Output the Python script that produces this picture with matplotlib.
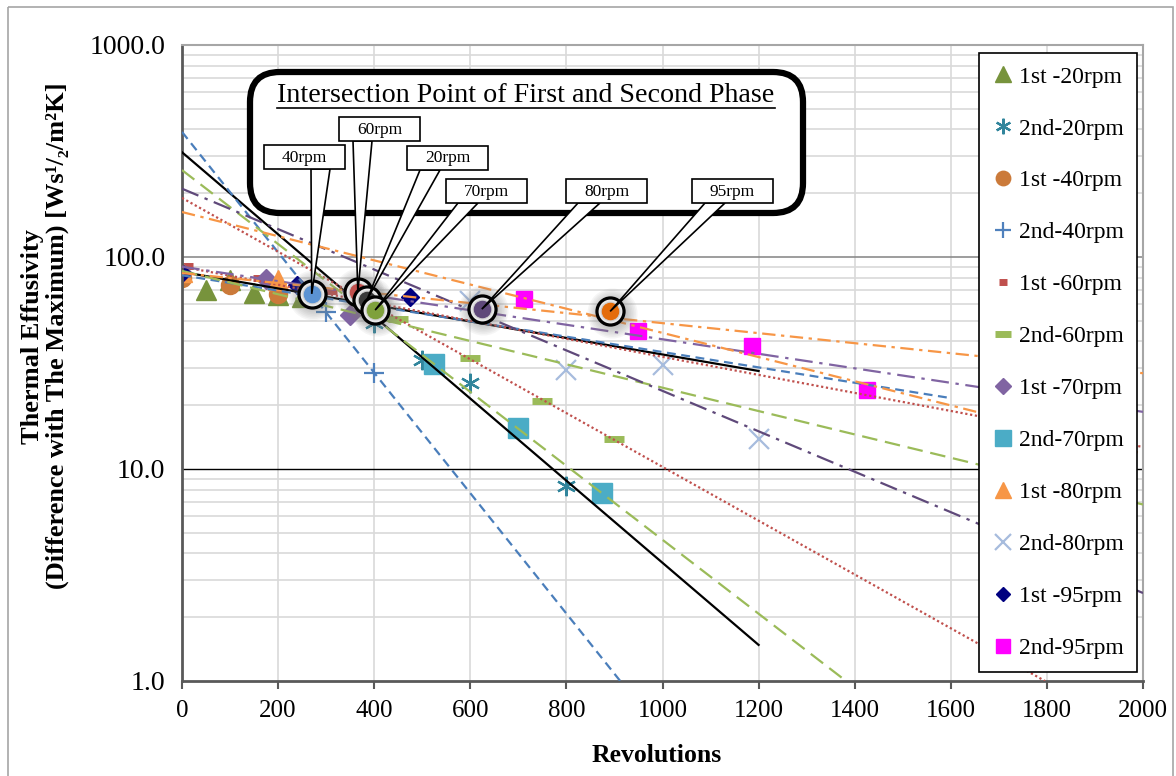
import numpy as np
import matplotlib.pyplot as plt
from matplotlib.patches import FancyBboxPatch, Rectangle, Polygon

plt.rcParams['font.family'] = ['Liberation Serif', 'DejaVu Serif']

# measured points, first and second phase, per rotation speed
x_1st_20 = [50, 100, 150, 200, 250]
y_1st_20 = [70, 78, 68, 66, 65]
x_2nd_20 = [400, 500, 600, 800]
y_2nd_20 = [49, 32.5, 25.5, 8.3]
x_1st_40 = [0, 100, 200]
y_1st_40 = [80, 74, 67]
x_2nd_40 = [300, 400]
y_2nd_40 = [55, 28.3]
x_1st_60 = [10, 160, 310]
y_1st_60 = [91, 80, 69]
x_2nd_60 = [450, 600, 750, 900]
y_2nd_60 = [51, 33.4, 21, 13.8]
x_1st_70 = [0, 175, 350]
y_1st_70 = [84, 79, 53]
x_2nd_70 = [525, 700, 875]
y_2nd_70 = [31.2, 15.6, 7.7]
x_1st_80 = [0, 200]
y_1st_80 = [85, 78]
x_2nd_80 = [600, 800, 1000, 1200]
y_2nd_80 = [62, 29.3, 30.9, 13.8]
x_1st_95 = [0, 240, 475]
y_1st_95 = [84, 74, 65]
x_2nd_95 = [712, 949, 1186, 1425]
y_2nd_95 = [63.6, 45, 38, 23.6]

# exponential trend lines: value at 0 and at the end of the line
rpm = ['20rpm', '40rpm', '60rpm', '70rpm', '80rpm', '95rpm']
trend1_start = [85, 82, 90, 86, 90, 84]
trend1_end_x = [1200, 1600, 2000, 2000, 2000, 2000]
trend1_end_y = [29.0, 21.6, 12.7, 6.8, 18.6, 28.3]
trend2_start = [312, 389, 190, 257, 210, 163]
trend2_end_x = [1200, 912, 1796, 1382, 2000, 2000]
trend2_end_y = [1.48, 1.0, 1.0, 1.0, 2.6, 11.8]

# intersection of the two phases
cross_label = ['60rpm', '40rpm', '20rpm', '70rpm', '80rpm', '95rpm']
cross_x = [366, 270, 385, 402, 624, 891]
cross_y = [68.5, 67, 62.9, 56.2, 56.8, 55.4]

trend_color1 = ['black', '#4A7EBB', '#C0504D', '#9BBB59', '#8064A2', '#F79646']
trend_color2 = ['black', '#4A7EBB', '#C0504D', '#9BBB59', '#5F497A', '#F79646']
trend_ls = ['-', (0, (4, 2.5)), (0, (1, 1.2)), (0, (7, 3.5)), (0, (8, 3, 1.5, 3)),
            (0, (6, 2.5, 1.5, 2.5))]
cross_color = {'60rpm': '#C0504D', '40rpm': '#5B93D3', '20rpm': '#3A3A3A',
               '70rpm': '#7FA13C', '80rpm': '#5F497A', '95rpm': '#E46C0A'}

fig = plt.figure(figsize=(11.76, 7.76), dpi=100)
ax = fig.add_axes([182 / 1176, 1 - 681 / 776, 961 / 1176, 636 / 776])
ax.set_yscale('log')
ax.set_xlim(0, 2000)
ax.set_ylim(1, 1000)

# grid
for d in [1, 10, 100]:
    for m in range(2, 10):
        ax.axhline(d * m, color='#D9D9D9', lw=1.2, zorder=0)
ax.axhline(10, color='black', lw=1.0, zorder=0.5)
ax.axhline(100, color='#8C8C8C', lw=1.2, zorder=0.5)
for xv in range(200, 2000, 200):
    ax.axvline(xv, color='#D9D9D9', lw=1.2, zorder=0)

for s in ['left', 'bottom']:
    ax.spines[s].set_color('#595959')
    ax.spines[s].set_linewidth(2)
for s in ['top', 'right']:
    ax.spines[s].set_color('#A6A6A6')
    ax.spines[s].set_linewidth(1.5)

ax.set_xticks(range(0, 2001, 200))
ax.set_yticks([1, 10, 100, 1000])
ax.set_yticklabels(['1.0', '10.0', '100.0', '1000.0'])
ax.yaxis.set_minor_locator(plt.NullLocator())
ax.tick_params(axis='x', direction='out', length=6, width=1.5, color='#595959',
               labelsize=18, pad=8)
ax.tick_params(axis='y', length=0, labelsize=20, pad=12)

# trend lines
for i in range(len(rpm)):
    ax.plot([0, trend1_end_x[i]], [trend1_start[i], trend1_end_y[i]],
            color=trend_color1[i], ls=trend_ls[i], lw=1.6, zorder=3)
    ax.plot([0, trend2_end_x[i]], [trend2_start[i], trend2_end_y[i]],
            color=trend_color2[i], ls=trend_ls[i], lw=1.6, zorder=3)

# data series
series = [
    (x_1st_20, y_1st_20, '1st -20rpm', dict(marker='^', color='#77933C', ms=14)),
    (x_2nd_20, y_2nd_20, '2nd-20rpm', dict(marker=(6, 2, 0), color='#31859C', ms=14, mew=1.6)),
    (x_1st_40, y_1st_40, '1st -40rpm', dict(marker='o', color='#CB7A3A', ms=13)),
    (x_2nd_40, y_2nd_40, '2nd-40rpm', dict(marker='+', color='#4F81BD', ms=14, mew=1.6)),
    (x_1st_60, y_1st_60, '1st -60rpm', dict(marker='_', color='#C0504D', ms=8, mew=5)),
    (x_2nd_60, y_2nd_60, '2nd-60rpm', dict(marker='_', color='#9BBB59', ms=14, mew=5)),
    (x_1st_70, y_1st_70, '1st -70rpm', dict(marker='D', color='#8064A2', ms=10)),
    (x_2nd_70, y_2nd_70, '2nd-70rpm', dict(marker='s', color='#4BACC6', ms=14)),
    (x_1st_80, y_1st_80, '1st -80rpm', dict(marker='^', color='#F79646', ms=14)),
    (x_2nd_80, y_2nd_80, '2nd-80rpm', dict(marker='x', color='#A7BCDD', ms=14, mew=1.6)),
    (x_1st_95, y_1st_95, '1st -95rpm', dict(marker='D', color='#000080', ms=9)),
    (x_2nd_95, y_2nd_95, '2nd-95rpm', dict(marker='s', color='#FF00FF', ms=12)),
]
handles = []
for xs, ys, lab, st in series:
    h, = ax.plot(xs, ys, ls='none', label=lab, zorder=2.5, **st)
    handles.append(h)

leg = ax.legend(handles=handles, loc='upper right', bbox_to_anchor=(1137 / 1176, 1 - 53 / 776),
                bbox_transform=fig.transFigure, fontsize=17, frameon=True, fancybox=False,
                edgecolor='black', framealpha=1, labelspacing=1.29, handlelength=0.9,
                handletextpad=0.25, borderpad=0.55, markerscale=0.8, borderaxespad=0)
leg.get_frame().set_linewidth(1.2)
leg.set_zorder(20)

# intersection markers with soft shadow
for lab, xv, yv in zip(cross_label, cross_x, cross_y):
    for r in np.linspace(36, 20, 8):
        ax.plot(xv + 3, yv * 0.985, 'o', ms=r, mfc='#7F7F7F', mec='none',
                alpha=0.07, zorder=4)
for lab, xv, yv in zip(cross_label, cross_x, cross_y):
    ax.plot(xv, yv, 'o', ms=19.5, mfc='#E8E8E8', mec='black', mew=2.3, zorder=5)
    ax.plot(xv, yv, 'o', ms=13.5, mfc=cross_color[lab], mec='#CFCFCF', mew=0.8, zorder=5)

# annotation overlay in pixel units
ov = fig.add_axes([0, 0, 1, 1])
ov.set_xlim(0, 1176)
ov.set_ylim(776, 0)
ov.axis('off')
ov.set_zorder(10)

ov.add_patch(Rectangle((8, 7), 1165, 790, fill=False, ec='#A6A6A6', lw=1.2))
ov.add_patch(FancyBboxPatch((250, 72), 553, 141, boxstyle='round,pad=0,rounding_size=30',
                            fc='white', ec='black', lw=4.5, zorder=1))
ov.text(526, 95, 'Intersection Point of First and Second Phase', fontsize=20.2,
        ha='center', va='center', zorder=4)
ov.plot([277, 775], [107.5, 107.5], color='black', lw=1.2, zorder=4)

callouts = {
    '40rpm': (264, 145, 311, 330),
    '60rpm': (339, 117, 353, 372),
    '20rpm': (407, 146, 420, 440),
    '70rpm': (446, 179, 458, 478),
    '80rpm': (566, 179, 578, 600),
    '95rpm': (692, 179, 705, 725),
}
for lab, xv, yv in zip(cross_label, cross_x, cross_y):
    bx, by, w1, w2 = callouts[lab]
    px, py = ax.transData.transform((xv, yv))
    py = 776 - py
    ov.add_patch(Polygon([(w1, by + 24), (w2, by + 24), (px, py)], closed=True,
                         fc='white', ec='black', lw=1.2, zorder=2))
    ov.add_patch(Rectangle((bx, by), 81, 24, fc='white', ec='black', lw=1.2, zorder=3))
    ov.text(bx + 40.5, by + 12.5, lab, fontsize=12.5, ha='center', va='center', zorder=4)

fig.text(657 / 1176, 1 - 755 / 776, 'Revolutions', fontsize=18.5, fontweight='bold',
         ha='center', va='center')
fig.text(45 / 1176, 1 - 336 / 776,
         'Thermal Effusivity\n(Difference with The Maximum) [Ws\u00b9/\u2082/m\u00b2K]',
         fontsize=19, fontweight='bold', rotation=90, ha='center', va='center',
         multialignment='center', linespacing=1.1)

fig.savefig('out.png', dpi=100)
